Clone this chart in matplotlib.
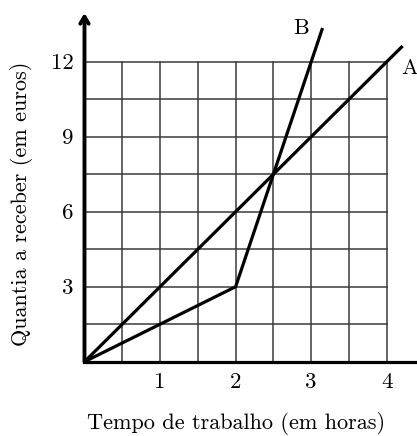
import matplotlib
matplotlib.use("Agg")
import matplotlib.pyplot as plt
import numpy as np

# Data
a_x = [0, 4.21]
a_y = [0, 12.63]
b_x = [0, 2, 2.5, 3.15]
b_y = [0, 3, 7.5, 13.35]
x_ticks = [1, 2, 3, 4]
y_ticks = [3, 6, 9, 12]
x_grid = np.arange(0, 4.01, 0.5)
y_grid = np.arange(0, 12.01, 1.5)

plt.rcParams['axes.formatter.use_mathtext'] = True
FONT = 'cmr10'
XMAX, YMAX = 4.4, 13.95

fig = plt.figure(figsize=(4.17, 4.36), dpi=100)
ax = fig.add_axes([0.2026, 0.1704, 0.7974, 0.7998])
ax.set_xlim(0, XMAX)
ax.set_ylim(0, YMAX)

for gx in x_grid[1:]:
    ax.plot([gx, gx], [0, 12], color='#3a3a3a', lw=1.1, zorder=1)
for gy in y_grid[1:]:
    ax.plot([0, 4], [gy, gy], color='#3a3a3a', lw=1.1, zorder=1)

ax.plot(a_x, a_y, color='black', lw=2.3, zorder=3, solid_capstyle='butt')
ax.plot(b_x, b_y, color='black', lw=2.3, zorder=3, solid_capstyle='butt')

ax.text(4.3, 11.75, 'A', fontfamily=FONT, fontsize=16, ha='center', va='center')
ax.text(2.87, 13.35, 'B', fontfamily=FONT, fontsize=16, ha='center', va='center')

for s in ax.spines.values():
    s.set_visible(False)
ax.plot([0, XMAX], [0, 0], color='black', lw=2.3, clip_on=False, zorder=4)
ax.annotate('', xy=(0, YMAX), xytext=(0, 0),
            arrowprops=dict(arrowstyle='->,head_length=0.5,head_width=0.3', lw=2.8, color='black',
                            shrinkA=0, shrinkB=0), zorder=4)

ax.set_xticks(x_ticks)
ax.set_yticks(y_ticks)
ax.set_xticklabels([str(v) for v in x_ticks], fontfamily=FONT, fontsize=16.5)
ax.set_yticklabels([str(v) for v in y_ticks], fontfamily=FONT, fontsize=16.5)
ax.tick_params(length=0, pad=8)

ax.set_xlabel('Tempo de trabalho (em horas)', fontfamily=FONT, fontsize=16)
ax.set_ylabel('Quantia a receber (em euros)', fontfamily=FONT, fontsize=16)
ax.xaxis.set_label_coords(2 / XMAX, -0.145)
ax.yaxis.set_label_coords(-0.155, 0.453)

fig.savefig('out.png', dpi=100)
